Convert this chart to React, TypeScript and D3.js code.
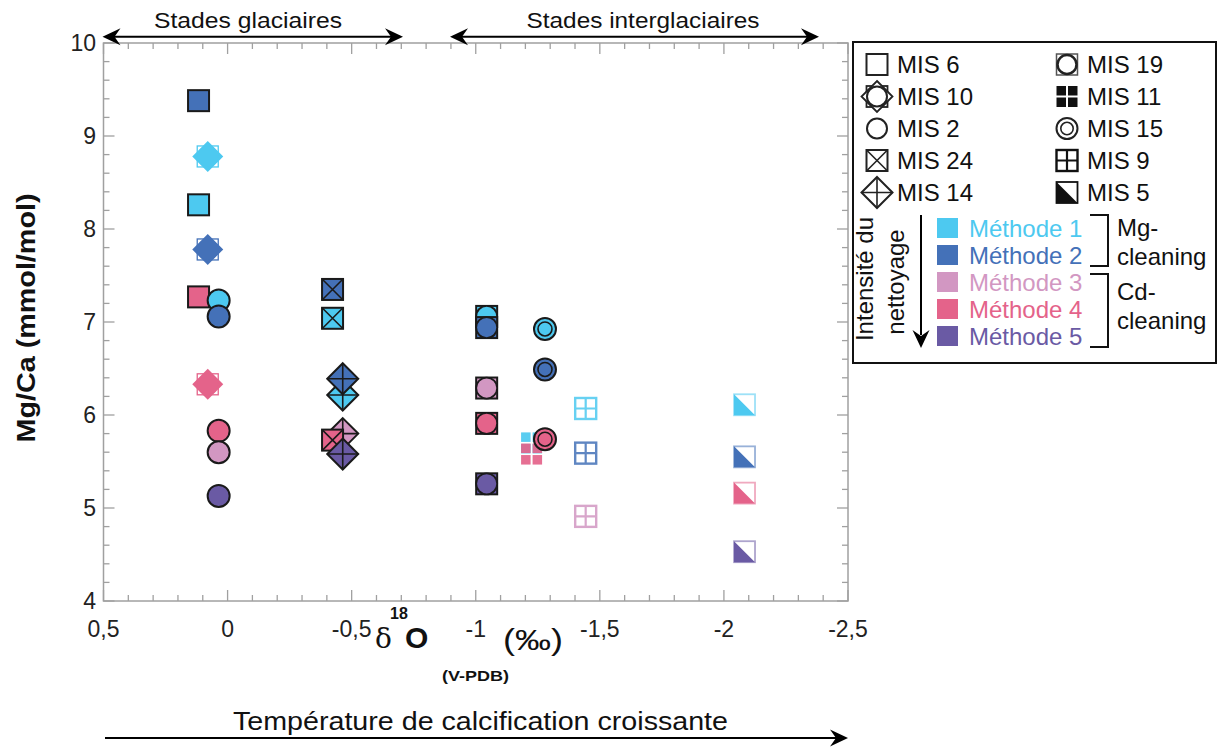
import React from "react";
import * as d3 from "d3";

// ---- Data ----
const methods = ["Méthode 1", "Méthode 2", "Méthode 3", "Méthode 4", "Méthode 5"];
const methodColors = ["#4dc9f0", "#4471b8", "#d297c2", "#e4638a", "#6a5aa4"];

const misCol1 = ["MIS 6", "MIS 10", "MIS 2", "MIS 24", "MIS 14"];
const misCol2 = ["MIS 19", "MIS 11", "MIS 15", "MIS 9", "MIS 5"];

// points in drawing order: [MIS, method index (0-4), d18O, Mg/Ca]
const pointsMIS6: [string, number, number, number][] = [
  ["MIS 6", 1, 0.117, 9.38],
  ["MIS 6", 0, 0.117, 8.26],
  ["MIS 6", 3, 0.117, 7.27],
];
const pointsMIS10: [string, number, number, number][] = [
  ["MIS 10", 0, 0.08, 8.78],
  ["MIS 10", 1, 0.08, 7.78],
  ["MIS 10", 3, 0.08, 6.33],
];
const pointsMIS2: [string, number, number, number][] = [
  ["MIS 2", 0, 0.036, 7.23],
  ["MIS 2", 1, 0.036, 7.06],
  ["MIS 2", 3, 0.036, 5.83],
  ["MIS 2", 2, 0.036, 5.6],
  ["MIS 2", 4, 0.036, 5.13],
];
const pointsMIS24_14: [string, number, number, number][] = [
  ["MIS 24", 1, -0.423, 7.35],
  ["MIS 24", 0, -0.423, 7.04],
  ["MIS 14", 0, -0.464, 6.215],
  ["MIS 14", 1, -0.464, 6.39],
  ["MIS 14", 2, -0.464, 5.8],
  ["MIS 24", 3, -0.423, 5.73],
  ["MIS 14", 4, -0.464, 5.58],
];
const pointsMIS19: [string, number, number, number][] = [
  ["MIS 19", 0, -1.044, 7.06],
  ["MIS 19", 1, -1.044, 6.94],
  ["MIS 19", 2, -1.044, 6.29],
  ["MIS 19", 3, -1.044, 5.91],
  ["MIS 19", 4, -1.044, 5.26],
];
const pointsMIS11_15: [string, number, number, number][] = [
  ["MIS 11", 0, -1.225, 5.7],
  ["MIS 11", 3, -1.225, 5.58],
  ["MIS 15", 0, -1.279, 6.925],
  ["MIS 15", 1, -1.279, 6.49],
  ["MIS 15", 3, -1.279, 5.74],
];
const pointsMIS9: [string, number, number, number][] = [
  ["MIS 9", 0, -1.443, 6.07],
  ["MIS 9", 1, -1.443, 5.59],
  ["MIS 9", 2, -1.443, 4.91],
];
const pointsMIS5: [string, number, number, number][] = [
  ["MIS 5", 0, -2.083, 6.11],
  ["MIS 5", 1, -2.083, 5.55],
  ["MIS 5", 3, -2.083, 5.16],
  ["MIS 5", 4, -2.083, 4.53],
];

const xTickLabels = ["0,5", "0", "-0,5", "-1", "-1,5", "-2", "-2,5"];
const xTickValues = [0.5, 0, -0.5, -1, -1.5, -2, -2.5];
const yTickValues = [4, 5, 6, 7, 8, 9, 10];

const FONT = "'Liberation Sans', Arial, Helvetica, sans-serif";
const INK = "#1a1a1a";

// ---- Markers ----
function Marker({ mis, cx, cy, color, legend }: { mis: string; cx: number; cy: number; color: string; legend?: boolean }) {
  const h = 10.5;
  const sq = (fill: string, stroke: string, sw: number, extra: any = {}) => (
    <rect x={cx - h} y={cy - h} width={2 * h} height={2 * h} fill={fill} stroke={stroke} strokeWidth={sw} {...extra} />
  );
  const dia = (r: number) => `M${cx},${cy - r}L${cx + r},${cy}L${cx},${cy + r}L${cx - r},${cy}Z`;
  const fillC = legend ? "#fff" : color;
  const st = legend ? "#222" : INK;
  switch (mis) {
    case "MIS 6":
      return sq(fillC, st, 2);
    case "MIS 10": {
      const sc = legend ? "#222" : color;
      return (
        <g>
          {sq("#fff", sc, legend ? 1.8 : 1.3)}
          <path d={dia(15.5)} fill={legend ? "#fff" : color} stroke={legend ? "#222" : "none"} strokeWidth={1.8} />
          <circle cx={cx} cy={cy} r={legend ? 10 : 10.5} fill={legend ? "#fff" : color} stroke={legend ? "#222" : "none"} strokeWidth={2} />
        </g>
      );
    }
    case "MIS 2":
      return <circle cx={cx} cy={cy} r={legend ? 10 : 11} fill={fillC} stroke={st} strokeWidth={2} />;
    case "MIS 24":
      return (
        <g>
          {sq(fillC, st, 2)}
          <path d={`M${cx - h},${cy - h}L${cx + h},${cy + h}M${cx + h},${cy - h}L${cx - h},${cy + h}`} stroke={st} strokeWidth={1.6} />
        </g>
      );
    case "MIS 14":
      return (
        <g>
          <path d={dia(15.5)} fill={fillC} stroke={st} strokeWidth={2} strokeLinejoin="miter" />
          <path d={`M${cx - 15.5},${cy}H${cx + 15.5}M${cx},${cy - 15.5}V${cy + 15.5}`} stroke={st} strokeWidth={1.6} />
        </g>
      );
    case "MIS 19":
      return (
        <g>
          {sq(fillC, legend ? "#555" : INK, legend ? 1.5 : 2)}
          <circle cx={cx} cy={cy} r={legend ? 9.5 : 10.5} fill={fillC} stroke={st} strokeWidth={legend ? 2.5 : 1.8} />
        </g>
      );
    case "MIS 11": {
      const s = 9.5;
      const g = 1;
      const c = legend ? "#111" : color;
      return (
        <g fill={c} opacity={legend ? 1 : 0.92}>
          <rect x={cx - g - s} y={cy - g - s} width={s} height={s} />
          <rect x={cx + g} y={cy - g - s} width={s} height={s} />
          <rect x={cx - g - s} y={cy + g} width={s} height={s} />
          <rect x={cx + g} y={cy + g} width={s} height={s} />
        </g>
      );
    }
    case "MIS 15":
      return (
        <g>
          <circle cx={cx} cy={cy} r={legend ? 10.5 : 11} fill={fillC} stroke={st} strokeWidth={2} />
          <circle cx={cx} cy={cy} r={legend ? 6.2 : 7} fill={fillC} stroke={st} strokeWidth={1.6} />
        </g>
      );
    case "MIS 9": {
      const c = legend ? "#111" : color;
      return (
        <g opacity={legend ? 1 : 0.85}>
          {sq("#fff", c, 2.4)}
          <path d={`M${cx - h},${cy}H${cx + h}M${cx},${cy - h}V${cy + h}`} stroke={c} strokeWidth={2.2} />
        </g>
      );
    }
    case "MIS 5": {
      const c = legend ? "#111" : color;
      return (
        <g>
          {sq("#fff", c, 1.8, { strokeOpacity: legend ? 1 : 0.55 })}
          <path d={`M${cx - h},${cy - h}L${cx + h},${cy + h}L${cx - h},${cy + h}Z`} fill={c} />
        </g>
      );
    }
    default:
      return null;
  }
}

function ArrowHead({ x, y, dir }: { x: number; y: number; dir: "left" | "right" | "down" }) {
  const L = 18, W = 8.5, N = 12;
  let d = "";
  if (dir === "right") d = `M${x},${y}L${x - L},${y - W}L${x - N},${y}L${x - L},${y + W}Z`;
  if (dir === "left") d = `M${x},${y}L${x + L},${y - W}L${x + N},${y}L${x + L},${y + W}Z`;
  if (dir === "down") d = `M${x},${y}L${x - W},${y - L}L${x},${y - N}L${x + W},${y - L}Z`;
  return <path d={d} fill="#000" />;
}

export default function App() {
  const x = d3.scaleLinear().domain([0.5, -2.5]).range([103.5, 848]);
  const y = d3.scaleLinear().domain([4, 10]).range([601, 43]);
  const [x0, x1] = x.range();
  const [yb, yt] = y.range();

  const xMinor = d3.range(-25, 6).map((i) => i / 10);
  const yMinor = d3.range(20, 51).map((i) => i / 5);
  const isMajorX = (v: number) => Math.abs(v * 2 - Math.round(v * 2)) < 1e-6;
  const isMajorY = (v: number) => Math.abs(v - Math.round(v)) < 1e-6;
  const axisColor = "#a0a0a0";

  const allPoints = [
    ...pointsMIS6,
    ...pointsMIS10,
    ...pointsMIS2,
    ...pointsMIS24_14,
    ...pointsMIS19,
    ...pointsMIS11_15,
    ...pointsMIS9,
    ...pointsMIS5,
  ];

  return (
    <svg width={1217} height={747} style={{ position: "absolute", left: 0, top: 0, background: "#fff" }} fontFamily={FONT}>
      {/* frame */}
      <rect x={x0} y={yt} width={x1 - x0} height={yb - yt} fill="none" stroke={axisColor} strokeWidth={1.5} />
      {/* x ticks */}
      {xMinor.map((v, i) => {
        const len = isMajorX(v) ? 11 : 6;
        return (
          <g key={"xt" + i} stroke={axisColor} strokeWidth={1.3}>
            <line x1={x(v)} x2={x(v)} y1={yb} y2={yb - len} />
            <line x1={x(v)} x2={x(v)} y1={yt} y2={yt + len} />
          </g>
        );
      })}
      {yMinor.map((v, i) => {
        const len = isMajorY(v) ? 11 : 6;
        return (
          <g key={"yt" + i} stroke={axisColor} strokeWidth={1.3}>
            <line x1={x0} x2={x0 + len} y1={y(v)} y2={y(v)} />
            <line x1={x1} x2={x1 - len} y1={y(v)} y2={y(v)} />
          </g>
        );
      })}
      {/* tick labels */}
      {xTickValues.map((v, i) => (
        <text key={"xl" + i} x={x(v)} y={637} textAnchor="middle" fontSize={23} fill="#222">
          {xTickLabels[i]}
        </text>
      ))}
      {yTickValues.map((v) => (
        <text key={"yl" + v} x={96} y={y(v) + 8} textAnchor="end" fontSize={23} fill="#222">
          {String(v)}
        </text>
      ))}

      {/* axis titles */}
      <text transform="translate(35,318) rotate(-90)" textAnchor="middle" fontSize={25} fontWeight="bold" fill="#111" textLength={249} lengthAdjust="spacingAndGlyphs">
        Mg/Ca (mmol/mol)
      </text>
      <g fill="#111">
        <text x={375} y={648} fontSize={28} fontFamily="'DejaVu Serif', serif">δ</text>
        <text x={390} y={619} fontSize={16} fontWeight="bold">18</text>
        <text x={405} y={648} fontSize={30} fontWeight="bold">O</text>
        <text x={442} y={681} fontSize={15} fontWeight="bold" textLength={67} lengthAdjust="spacingAndGlyphs">(V-PDB)</text>
        <text x={503} y={650} fontSize={30} textLength={60} lengthAdjust="spacingAndGlyphs">(‰)</text>
      </g>

      {/* top arrows */}
      <line x1={106} x2={400} y1={36.7} y2={36.7} stroke="#000" strokeWidth={2} />
      <ArrowHead x={102.5} y={36.7} dir="left" />
      <ArrowHead x={403} y={36.7} dir="right" />
      <text x={248} y={28} textAnchor="middle" fontSize={22} fill="#111" textLength={188} lengthAdjust="spacingAndGlyphs">
        Stades glaciaires
      </text>
      <line x1={453} x2={816} y1={36.7} y2={36.7} stroke="#000" strokeWidth={2} />
      <ArrowHead x={450} y={36.7} dir="left" />
      <ArrowHead x={819} y={36.7} dir="right" />
      <text x={643} y={28} textAnchor="middle" fontSize={22} fill="#111" textLength={233} lengthAdjust="spacingAndGlyphs">
        Stades interglaciaires
      </text>

      {/* bottom arrow */}
      <line x1={105} x2={845} y1={738} y2={738} stroke="#000" strokeWidth={2} />
      <ArrowHead x={848} y={738} dir="right" />
      <text x={480.5} y={730} textAnchor="middle" fontSize={25} fill="#111" textLength={495} lengthAdjust="spacingAndGlyphs">
        Température de calcification croissante
      </text>

      {/* data points */}
      {allPoints.map(([mis, m, xv, yv], i) => (
        <Marker key={"p" + i} mis={mis} cx={x(xv)} cy={y(yv)} color={methodColors[m]} />
      ))}

      {/* legend */}
      <rect x={853} y={42} width={363} height={321} fill="#fff" stroke="#111" strokeWidth={2} />
      {misCol1.map((mis, i) => (
        <g key={"lc1" + i}>
          <Marker mis={mis} cx={877} cy={64.5 + i * 32} color="#000" legend />
          <text x={897} y={73 + i * 32} fontSize={24} fill="#111">{mis}</text>
        </g>
      ))}
      {misCol2.map((mis, i) => (
        <g key={"lc2" + i}>
          <Marker mis={mis} cx={1067} cy={64.5 + i * 32} color="#000" legend />
          <text x={1087} y={73 + i * 32} fontSize={24} fill="#111">{mis}</text>
        </g>
      ))}
      {methods.map((mth, i) => (
        <g key={"lm" + i}>
          <rect x={937} y={218 + i * 27} width={21} height={20} fill={methodColors[i]} />
          <text x={969} y={237 + i * 27} fontSize={24} fill={methodColors[i]}>{mth}</text>
        </g>
      ))}
      {/* brackets */}
      <path d="M1090,215H1108V266H1090" fill="none" stroke="#111" strokeWidth={2} />
      <path d="M1090,274H1108V347H1090" fill="none" stroke="#111" strokeWidth={2} />
      <g fontSize={24} fill="#111">
        <text x={1117} y={236}>Mg-</text>
        <text x={1117} y={265}>cleaning</text>
        <text x={1117} y={300}>Cd-</text>
        <text x={1117} y={329}>cleaning</text>
      </g>
      {/* cleaning intensity */}
      <text transform="translate(873,279) rotate(-90)" textAnchor="middle" fontSize={24} fill="#111">
        Intensité du
      </text>
      <text transform="translate(904,282) rotate(-90)" textAnchor="middle" fontSize={24} fill="#111">
        nettoyage
      </text>
      <line x1={921} x2={921} y1={215} y2={335} stroke="#000" strokeWidth={2} />
      <ArrowHead x={921} y={348} dir="down" />
    </svg>
  );
}
